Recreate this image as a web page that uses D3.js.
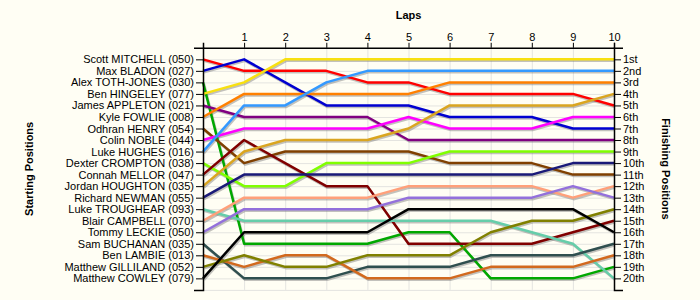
<html>
    <head>
        <script src="https://d3js.org/d3.v7.min.js"></script>
        <style>
        body { margin: 0; background: #fffef4; }
        text { font-family: "Liberation Sans", Arial, sans-serif; }
        .gridlines line { stroke: #e4e4e0; }
        .gridlines .domain { stroke: none; }
        .axis path, .axis line { stroke: #000; }
        .axis text { font-size: 11px; fill: #000; }
        .title { font-size: 11px; font-weight: bold; }
        </style>
    </head>
    <body>
        <svg id="laps" width="700" height="300"></svg>
        <script>
            const drivers = ['Scott MITCHELL (050)', 'Max BLADON (027)', 'Alex TOTH-JONES (030)', 'Ben HINGELEY (077)',
                'James APPLETON (021)', 'Kyle FOWLIE (008)', 'Odhran HENRY (054)', 'Colin NOBLE (044)',
                'Luke HUGHES (016)', 'Dexter CROMPTON (038)', 'Connah MELLOR (047)', 'Jordan HOUGHTON (035)',
                'Richard NEWMAN (055)', 'Luke TROUGHEAR (093)', 'Blair CAMPBELL (070)', 'Tommy LECKIE (050)',
                'Sam BUCHANAN (035)', 'Ben LAMBIE (013)', 'Matthew GILLILAND (052)', 'Matthew COWLEY (079)'];

            const colors = ['#ff0000', '#0000d0', '#00a800', '#f8e010', '#800080', '#ff8000', '#804000', '#ff00ff',
                '#3399ff', '#80ff00', '#800000', '#daa520', '#1a1a78', '#66cdaa', '#ffa07a', '#9370db',
                '#2f4f4f', '#d2691e', '#808000', '#000000'];

            // position of each driver after lap 0..10
            const positions = [
                [1, 2, 2, 2, 3, 3, 4, 4, 4, 4, 5],
                [2, 1, 3, 5, 5, 5, 6, 6, 6, 7, 7],
                [3, 17, 17, 17, 17, 16, 16, 20, 20, 20, 19],
                [4, 3, 1, 1, 1, 1, 1, 1, 1, 1, 1],
                [5, 6, 6, 6, 6, 8, 8, 8, 8, 8, 8],
                [6, 4, 4, 4, 4, 4, 3, 3, 3, 3, 3],
                [7, 10, 9, 9, 9, 9, 10, 10, 10, 11, 11],
                [8, 7, 7, 7, 7, 6, 7, 7, 7, 6, 6],
                [9, 5, 5, 3, 2, 2, 2, 2, 2, 2, 2],
                [10, 12, 12, 10, 10, 10, 9, 9, 9, 9, 9],
                [11, 8, 10, 12, 12, 17, 17, 17, 17, 16, 15],
                [12, 9, 8, 8, 8, 7, 5, 5, 5, 5, 4],
                [13, 11, 11, 11, 11, 11, 11, 11, 11, 10, 10],
                [14, 15, 15, 15, 15, 15, 15, 15, 16, 17, 20],
                [15, 13, 13, 13, 13, 12, 12, 12, 12, 13, 12],
                [16, 14, 14, 14, 14, 13, 13, 13, 13, 12, 13],
                [17, 20, 20, 20, 19, 19, 19, 18, 18, 18, 17],
                [18, 19, 18, 18, 20, 20, 20, 19, 19, 19, 18],
                [19, 18, 19, 19, 18, 18, 18, 16, 15, 15, 14],
                [20, 16, 16, 16, 16, 14, 14, 14, 14, 14, 16]
            ];

            const lapTicks = [1, 2, 3, 4, 5, 6, 7, 8, 9, 10];
            const finishLabels = ['1st', '2nd', '3rd', '4th', '5th', '6th', '7th', '8th', '9th', '10th',
                '11th', '12th', '13th', '14th', '15th', '16th', '17th', '18th', '19th', '20th'];

            const svg = d3.select('svg#laps');
            const plotLeft = 203, plotRight = 614, plotTop = 47.8, plotBottom = 289.9;

            const lapScale = d3.scaleLinear().domain([0, 10]).range([plotLeft, plotRight]);
            const posScale = d3.scaleLinear().domain([0, 21]).range([plotTop, plotBottom]);
            const posTicks = d3.range(1, 21);

            // gridlines
            svg.append('g').attr('class', 'gridlines')
                .attr('transform', `translate(0,${plotBottom})`)
                .call(d3.axisBottom(lapScale).tickValues(lapTicks).tickSize(-(plotBottom - plotTop)).tickFormat(''));
            svg.append('g').attr('class', 'gridlines')
                .attr('transform', `translate(${plotLeft},0)`)
                .call(d3.axisLeft(posScale).tickValues(posTicks.concat([21])).tickSize(-(plotRight - plotLeft)).tickFormat(''));

            const line = d3.line()
                .x((d, i) => lapScale(i))
                .y(d => posScale(d));

            const chartArea = svg.append('g');

            // shadows first, then lines
            positions.forEach((p) => {
                chartArea.append('path')
                    .attr('d', line(p))
                    .attr('transform', 'translate(1,1.5)')
                    .attr('fill', 'none')
                    .attr('stroke', '#777')
                    .attr('stroke-opacity', 0.45)
                    .attr('stroke-width', 2.5);
            });
            positions.forEach((p, i) => {
                chartArea.append('path')
                    .attr('d', line(p))
                    .attr('fill', 'none')
                    .attr('stroke', colors[i])
                    .attr('stroke-width', 2.5)
                    .attr('stroke-linejoin', 'round');
            });

            // axes
            svg.append('g').attr('class', 'axis')
                .attr('transform', `translate(0,${plotTop})`)
                .call(d3.axisTop(lapScale).tickValues(lapTicks).tickSize(5).tickSizeOuter(5).tickPadding(2));

            svg.append('g').attr('class', 'axis')
                .attr('transform', `translate(${plotLeft},0)`)
                .call(d3.axisLeft(posScale).tickValues(posTicks).tickSize(7).tickSizeOuter(9).tickPadding(2)
                    .tickFormat(d => drivers[d - 1]));

            svg.append('g').attr('class', 'axis')
                .attr('transform', `translate(${plotRight},0)`)
                .call(d3.axisRight(posScale).tickValues(posTicks).tickSize(7).tickSizeOuter(9).tickPadding(2)
                    .tickFormat(d => finishLabels[d - 1]));

            svg.selectAll('.axis .domain').attr('stroke-width', 1.5);

            // titles
            svg.append('text').attr('class', 'title')
                .attr('x', (plotLeft + plotRight) / 2).attr('y', 19)
                .attr('text-anchor', 'middle')
                .text('Laps');

            svg.append('text').attr('class', 'title')
                .attr('transform', `translate(33,${(plotTop + plotBottom) / 2}) rotate(-90)`)
                .attr('text-anchor', 'middle')
                .text('Starting Positions');

            svg.append('text').attr('class', 'title')
                .attr('transform', `translate(662,${(plotTop + plotBottom) / 2}) rotate(90)`)
                .attr('text-anchor', 'middle')
                .text('Finishing Positions');
        </script>
    </body>
</html>
